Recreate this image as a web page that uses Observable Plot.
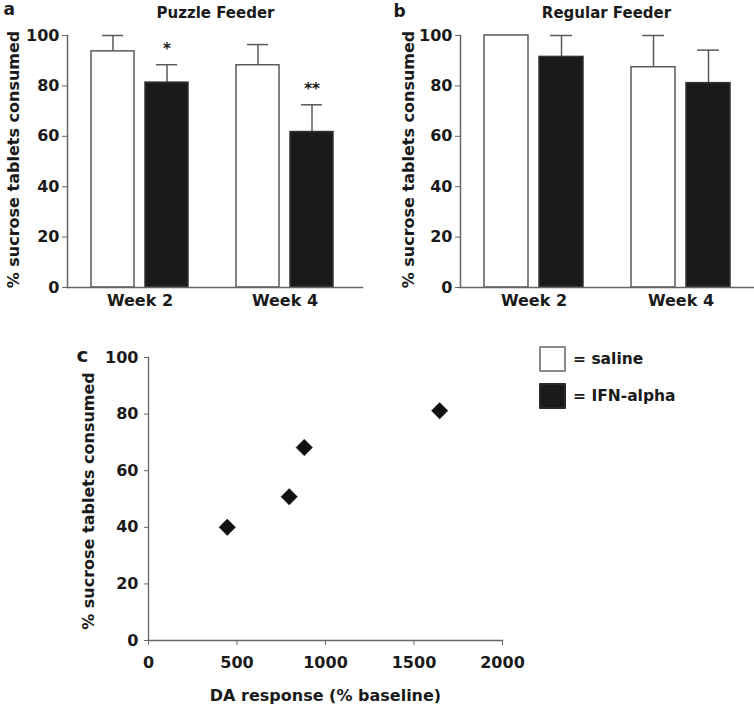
<!DOCTYPE html>
<html>
<head>
<meta charset="utf-8">
<script src="https://cdn.jsdelivr.net/npm/d3@7"></script>
<script src="https://cdn.jsdelivr.net/npm/@observablehq/plot@0.6"></script>
<style>
  body { margin: 0; background: #fff; font-family: "DejaVu Sans", sans-serif; }
  #wrap { position: relative; width: 754px; height: 706px; overflow: hidden; background: #fff; }
  .panel { position: absolute; }
  .panel svg { overflow: visible; }
  #legend { position: absolute; left: 539px; top: 346px; }
  .lrow { display: flex; align-items: center; height: 26px; margin-bottom: 11px; }
  .sw { box-sizing: border-box; width: 27px; height: 26px; border: 2px solid #8a8a8a; border-radius: 1px; }
  .lt { margin-left: 7px; font: bold 15.5px "DejaVu Sans", sans-serif; color: #1a1a1a; }
</style>
</head>
<body>
<div id="wrap">
  <div class="panel" id="pa" style="left:0px;top:0px"></div>
  <div class="panel" id="pb" style="left:377px;top:0px"></div>
  <div class="panel" id="pc" style="left:60px;top:320px"></div>
  <div id="legend"></div>
</div>
<script>
// ---- data ----
const weeks = ["Week 2", "Week 4"];
const treatments = ["saline", "IFN-alpha"];
const treatmentFill = ["#ffffff", "#1a1a1a"];
const legendLabels = ["= saline", "= IFN-alpha"];

const puzzleSaline = [93.7, 88.2];
const puzzleSalineSem = [6.3, 8.2];
const puzzleIfn = [81.3, 61.7];
const puzzleIfnSem = [7.1, 10.8];
const puzzleIfnSig = ["*", "**"];

const regularSaline = [100, 87.4];
const regularSalineSem = [0, 12.6];
const regularIfn = [91.5, 81.1];
const regularIfnSem = [8.5, 13.1];
const regularIfnSig = ["", ""];

const yTicks = [0, 20, 40, 60, 80, 100];
const xTicksDA = [0, 500, 1000, 1500, 2000];
const daResponse = [445, 795, 880, 1645];
const sucroseConsumed = [40, 50.8, 68.2, 81.2];

const yLabel = "% sucrose tablets consumed";
const xLabelDA = "DA response (% baseline)";

// ---- build tables ----
function rowsFor(sal, salSem, ifn, ifnSem, sig) {
  const rows = [];
  weeks.forEach((w, i) => {
    rows.push({week: w, treatment: treatments[0], mean: sal[i], sem: salSem[i], sig: ""});
    rows.push({week: w, treatment: treatments[1], mean: ifn[i], sem: ifnSem[i], sig: sig[i]});
  });
  return rows;
}
const puzzleRows = rowsFor(puzzleSaline, puzzleSalineSem, puzzleIfn, puzzleIfnSem, puzzleIfnSig);
const regularRows = rowsFor(regularSaline, regularSalineSem, regularIfn, regularIfnSem, regularIfnSig);

const ink = "#1a1a1a";
const axisGray = "#666";
const intFmt = d3.format("d");

function barPanel({rows, title, letter, width, marginLeft, marginRight, ylabDx, letterDx, letterDy, titleDx}) {
  const withErr = rows.filter(d => d.sem > 0);
  return Plot.plot({
    width, height: 320,
    marginLeft, marginRight, marginTop: 35, marginBottom: 33,
    style: {fontFamily: "DejaVu Sans", fontSize: "16px", fontWeight: "bold", color: ink, background: "transparent", overflow: "visible"},
    fx: {domain: weeks, padding: 0, label: null},
    x: {domain: treatments, paddingInner: 0.2, paddingOuter: 0.43, axis: null},
    y: {domain: [0, 100], axis: null},
    color: {domain: treatments, range: treatmentFill},
    marks: [
      Plot.ruleX(withErr, {fx: "week", x: "treatment", y1: "mean", y2: d => d.mean + d.sem, stroke: "#5a5a5a", strokeWidth: 1.5}),
      Plot.tickY(withErr, {fx: "week", x: "treatment", y: d => d.mean + d.sem, stroke: "#5a5a5a", strokeWidth: 1.5, insetLeft: 11, insetRight: 11}),
      Plot.barY(rows, {fx: "week", x: "treatment", y: "mean", fill: "treatment", stroke: d => d.treatment === treatments[0] ? "#5a5a5a" : "#333", strokeWidth: 1.5}),
      Plot.text(rows.filter(d => d.sig), {fx: "week", x: "treatment", y: d => d.mean + d.sem, text: "sig", dy: -11, lineAnchor: "bottom", fontSize: 15}),
      Plot.frame({anchor: "bottom", facet: "super", stroke: axisGray, strokeWidth: 1.5, insetRight: -5}),
      Plot.frame({anchor: "left", facet: "super", stroke: axisGray, strokeWidth: 1.5}),
      Plot.axisY({ticks: yTicks, tickSize: 5, tickPadding: 3, stroke: axisGray, label: null, fontSize: 16}),
      Plot.axisFx({anchor: "bottom", tickSize: 0, tickPadding: 7, label: null, fontSize: 16}),
      Plot.text([title], {text: d => d, frameAnchor: "top", textAnchor: "middle", dx: titleDx, dy: -18, lineAnchor: "bottom", facet: "super", fontSize: 15}),
      Plot.text([yLabel], {text: d => d, frameAnchor: "left", textAnchor: "middle", rotate: -90, dx: ylabDx, dy: -2, lineAnchor: "bottom", facet: "super", fontSize: 16}),
      Plot.text([letter], {text: d => d, frameAnchor: "top-left", textAnchor: "start", dx: letterDx, dy: letterDy, lineAnchor: "bottom", facet: "super", fontSize: 17})
    ]
  });
}

document.getElementById("pa").append(barPanel({
  rows: puzzleRows, title: "Puzzle Feeder", letter: "a", width: 377,
  marginLeft: 66, marginRight: 20, ylabDx: -49, letterDx: -64, letterDy: -20.5, titleDx: 3
}));
document.getElementById("pb").append(barPanel({
  rows: regularRows, title: "Regular Feeder", letter: "b", width: 377,
  marginLeft: 82, marginRight: 0, ylabDx: -47, letterDx: -67, letterDy: -18.5, titleDx: -1
}));

// ---- panel c ----
const points = daResponse.map((x, i) => ({da: x, sucrose: sucroseConsumed[i]}));
document.getElementById("pc").append(Plot.plot({
  width: 480, height: 386,
  marginLeft: 88, marginRight: 38, marginTop: 37, marginBottom: 66,
  style: {fontFamily: "DejaVu Sans", fontSize: "16px", fontWeight: "bold", color: ink, background: "transparent", overflow: "visible"},
  x: {domain: [0, 2000], axis: null},
  y: {domain: [0, 100], axis: null},
  marks: [
    Plot.frame({anchor: "left", stroke: axisGray, strokeWidth: 1.3}),
    Plot.frame({anchor: "bottom", stroke: axisGray, strokeWidth: 1.3}),
    Plot.axisX({ticks: xTicksDA, tickFormat: intFmt, tickSize: 5, tickPadding: 11, stroke: axisGray, label: null, fontSize: 16}),
    Plot.axisY({ticks: yTicks, tickFormat: intFmt, tickSize: 4, tickPadding: 6, stroke: axisGray, label: null, fontSize: 16}),
    Plot.dot(points, {x: "da", y: "sucrose", symbol: "diamond2", r: 7.4, fill: "#111", stroke: "#111", strokeWidth: 0.5}),
    Plot.text([xLabelDA], {text: d => d, frameAnchor: "bottom", textAnchor: "middle", dy: 60, lineAnchor: "bottom", fontSize: 16}),
    Plot.text([yLabel], {text: d => d, frameAnchor: "left", textAnchor: "middle", rotate: -90, dx: -55, dy: 2, lineAnchor: "bottom", fontSize: 16}),
    Plot.text(["c"], {text: d => d, frameAnchor: "top-left", textAnchor: "start", dx: -72, dy: 4, lineAnchor: "bottom", fontSize: 20})
  ]
}));

// ---- legend ----
const legend = document.getElementById("legend");
treatments.forEach((t, i) => {
  const row = document.createElement("div");
  row.className = "lrow";
  const sw = document.createElement("span");
  sw.className = "sw";
  sw.style.background = treatmentFill[i];
  if (i === 1) sw.style.borderColor = "#2a2a2a";
  const lt = document.createElement("span");
  lt.className = "lt";
  lt.textContent = legendLabels[i];
  row.append(sw, lt);
  legend.append(row);
});
</script>
</body>
</html>
